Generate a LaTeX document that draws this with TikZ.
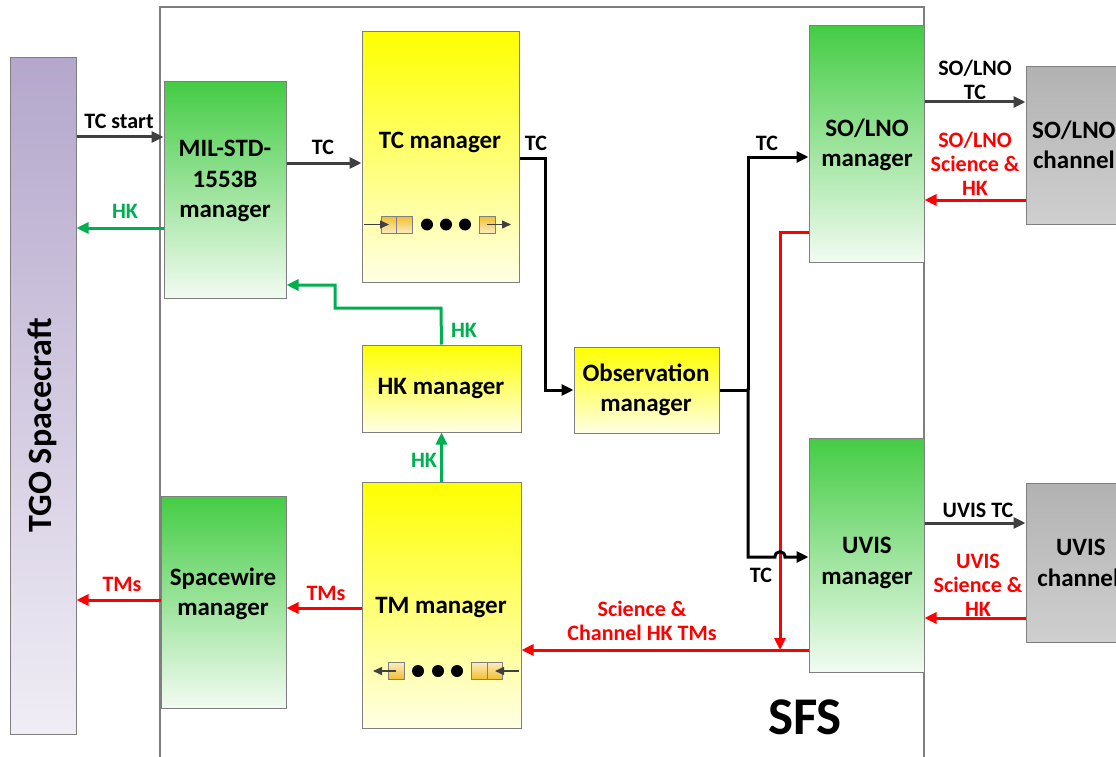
\documentclass[tikz,border=0pt]{standalone}
\usepackage{fontspec}
\setmainfont{Carlito}
\usetikzlibrary{arrows.meta}
\definecolor{grn}{HTML}{00B050}
\definecolor{rd}{HTML}{FF0000}
\definecolor{dk}{HTML}{404040}
\definecolor{bord}{HTML}{7F7F7F}
\definecolor{gtop}{HTML}{44CC44}
\definecolor{gbot}{HTML}{F2FBF2}
\definecolor{ytop}{HTML}{FFFF00}
\definecolor{ybot}{HTML}{FFFFE6}
\definecolor{ptop}{HTML}{B4A7CC}
\definecolor{pbot}{HTML}{F0EDF5}
\definecolor{stop}{HTML}{B2B2B2}
\definecolor{sbot}{HTML}{CFCFCF}
\definecolor{otop}{HTML}{F2BE2C}
\definecolor{obot}{HTML}{FBEBC0}
\begin{document}
\begin{tikzpicture}[x=1pt,y=-1pt,
  box/.style={draw=bord, line width=1pt, inner sep=0pt},
  greenbox/.style={box, top color=gtop, bottom color=gbot},
  yellowbox/.style={box, top color=ytop, bottom color=ybot},
  graybox/.style={box, top color=stop, bottom color=sbot},
  purplebox/.style={box, top color=ptop, bottom color=pbot},
  btxt/.style={font=\fontsize{25}{30.5}\selectfont\bfseries, align=center, inner sep=0pt},
  lbl/.style={font=\fontsize{22}{24}\selectfont\bfseries, align=center, inner sep=0pt},
  tip/.style={-{Triangle[length=12pt,width=11pt]}},
  dkarrow/.style={tip, draw=dk, line width=3pt},
  blkarrow/.style={tip, draw=black, line width=3pt},
  grnarrow/.style={tip, draw=grn, line width=3pt},
  redarrow/.style={tip, draw=rd, line width=3pt},
  cell/.style={draw=bord, line width=0.8pt, inner sep=0pt, minimum height=17pt},
  qdot/.style={circle, fill=black, inner sep=0pt, minimum size=12pt},
  qarrow/.style={-{Triangle[length=9pt,width=8pt]}, draw=dk, line width=1.5pt}
]
\useasboundingbox (0,0) rectangle (1116,757);
\fill[white] (0,0) rectangle (1116,757);

% outer SFS box
\node[draw=bord, line width=1.5pt, minimum width=764pt, minimum height=800pt, inner sep=0pt] (sfs) at (542,407) {};
\node[font=\fontsize{53}{56}\selectfont\bfseries, inner sep=0pt] (sfslbl) at (805,717) {SFS};

% boxes
\node[purplebox, minimum width=66pt, minimum height=676pt] (tgo) at (43,396) {};
\node[btxt, rotate=90, font=\fontsize{34}{38}\selectfont\bfseries] (tgot) at (42,425) {TGO Spacecraft};

\node[greenbox, minimum width=122pt, minimum height=216pt] (mil) at (225,190) {};
\node[btxt] (milt) at (225,181) {MIL-STD-\\1553B\\manager};

\node[yellowbox, minimum width=157pt, minimum height=250pt] (tcm) at (440.5,157) {};
\node[btxt] (tcmt) at (440,142) {TC manager};

\node[yellowbox, minimum width=159pt, minimum height=87pt] (hkm) at (441.5,388.5) {};
\node[btxt] (hkmt) at (441,389) {HK manager};

\node[yellowbox, minimum width=145pt, minimum height=86pt] (obs) at (646.5,390) {};
\node[btxt] (obst) at (646,390) {Observation\\manager};

\node[yellowbox, minimum width=159pt, minimum height=246pt] (tmm) at (441.5,605) {};
\node[btxt] (tmmt) at (441,608) {TM manager};

\node[greenbox, minimum width=125pt, minimum height=212pt] (spw) at (223.5,602) {};
\node[btxt] (spwt) at (223,594) {Spacewire\\manager};

\node[greenbox, minimum width=115pt, minimum height=236pt] (sol) at (866.5,144) {};
\node[btxt] (solt) at (867,145) {SO/LNO\\manager};

\node[greenbox, minimum width=115pt, minimum height=234pt] (uvm) at (866.5,555) {};
\node[btxt] (uvmt) at (867,563) {UVIS\\manager};

\node[graybox, minimum width=110pt, minimum height=157pt] (soc) at (1081,145.5) {};
\node[btxt, anchor=west] (soct) at (1032,145) {SO/LNO\\channel};

\node[graybox, minimum width=110pt, minimum height=159pt] (uvc) at (1081,562.5) {};
\node[btxt, anchor=west] (uvct) at (1032,563) {\hphantom{ch}UVIS\hphantom{el}\\channel};

% TC manager queue
\node[cell, minimum width=15.5pt, top color=otop, bottom color=obot] (tq1) at (389,224.5) {};
\node[cell, minimum width=15.5pt, top color=otop, bottom color=obot] (tq2) at (404.5,224.5) {};
\node[qdot] (td1) at (427,224.5) {};
\node[qdot] (td2) at (446,224.5) {};
\node[qdot] (td3) at (465,224.5) {};
\node[cell, minimum width=16pt, top color=otop, bottom color=obot] (tq3) at (487,224.5) {};
\draw[qarrow] (364,224.5) -- (tq1.center);
\draw[qarrow] (tq3.center) -- (511,224.5);

% TM manager queue
\node[cell, minimum width=16pt, top color=obot, bottom color=otop] (mq1) at (396,671) {};
\node[qdot] (md1) at (418,671) {};
\node[qdot] (md2) at (438,671) {};
\node[qdot] (md3) at (457,671) {};
\node[cell, minimum width=15.5pt, top color=obot, bottom color=otop] (mq2) at (479.5,671) {};
\node[cell, minimum width=15.5pt, top color=obot, bottom color=otop] (mq3) at (495,671) {};
\draw[qarrow] (mq1.center) -- (373,671);
\draw[qarrow] (519,671) -- (mq3.center);

% left side connectors
\draw[dkarrow] (tgo.east |- 0,137) -- (mil.west |- 0,137);
\node[lbl] (l1) at (119,121) {TC start};
\draw[grnarrow] (mil.west |- 0,228) -- (tgo.east |- 0,228);
\node[lbl, text=grn] (l2) at (125,211) {HK};
\draw[dkarrow] (mil.east |- 0,163) -- (tcm.west |- 0,163);
\node[lbl] (l3) at (323,147) {TC};
\draw[redarrow] (spw.west |- 0,600) -- (tgo.east |- 0,600);
\node[lbl, text=rd] (l4) at (122,584) {TMs};
\draw[redarrow] (tmm.west |- 0,608) -- (spw.east |- 0,608);
\node[lbl, text=rd] (l5) at (326,593) {TMs};

% HK connectors
\draw[grnarrow] (hkm.north) -- (441,308) -- (335,308) -- (335,285) -- (mil.east |- 0,285);
\node[lbl, text=grn] (l6) at (464,330) {HK};
\draw[grnarrow] (tmm.north) -- (hkm.south);
\node[lbl, text=grn] (l7) at (424,460) {HK};

% TC path
\draw[blkarrow] (tcm.east |- 0,158) -- (545,158) -- (545,390) -- (obs.west);
\node[lbl] (l8) at (536,143) {TC};
\draw[line width=3pt] (obs.east) -- (748,390);
\draw[blkarrow] (748,390) -- (748,157) -- (sol.west |- 0,157);
\node[lbl] (l9) at (767,143) {TC};

% red path (drawn before black hop)
\draw[line width=3pt, rd] (sol.west |- 0,232) -- (780,232) -- (780,560);
\draw[redarrow] (780,556) -- (780,650);
\draw[redarrow] (uvm.west |- 0,650) -- (tmm.east |- 0,650);
\node[lbl, text=rd] (l10) at (642,621) {Science \&\\Channel HK TMs};

\draw[blkarrow] (748,388) -- (748,557) -- (775,557) .. controls (775,550) and (785,550) .. (785,557) -- (uvm.west |- 0,557);
\node[lbl] (l11) at (761,575) {TC};

% right side connectors
\draw[dkarrow] (sol.east |- 0,102) -- (soc.west |- 0,102);
\node[lbl] (l12) at (975,80) {SO/LNO\\TC};
\draw[redarrow] (soc.west |- 0,200) -- (sol.east |- 0,200);
\node[lbl, text=rd] (l13) at (975,164) {SO/LNO\\Science \&\\HK};
\draw[dkarrow] (uvm.east |- 0,523) -- (uvc.west |- 0,523);
\node[lbl] (l14) at (978,510) {UVIS TC};
\draw[redarrow] (uvc.west |- 0,618) -- (uvm.east |- 0,618);
\node[lbl, text=rd] (l15) at (978,585) {UVIS\\Science \&\\HK};
\end{tikzpicture}
\end{document}
